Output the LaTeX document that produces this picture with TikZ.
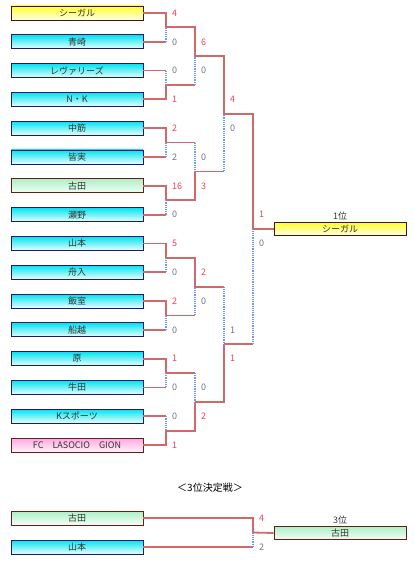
\documentclass[tikz,border=0pt]{standalone}
\usepackage{fontspec}
\setmainfont{Noto Sans CJK JP}
\usetikzlibrary{positioning,calc}

\definecolor{linie}{HTML}{D06A6A}
\definecolor{punkt}{HTML}{6F98EE}
\definecolor{sieger}{HTML}{F0405A}
\definecolor{verlierer}{HTML}{667788}
\definecolor{schrift}{HTML}{333333}
\definecolor{rahmenblau}{HTML}{1A1A70}
\definecolor{rahmenbraun}{HTML}{6B1A1A}
\definecolor{cyanoben}{HTML}{00E4EE}
\definecolor{cyanunten}{HTML}{EAFEFF}
\definecolor{gelboben}{HTML}{FFFF30}
\definecolor{gelbunten}{HTML}{FFFFE6}
\definecolor{gruenoben}{HTML}{AEEFC6}
\definecolor{gruenunten}{HTML}{F2FFF6}
\definecolor{rosaoben}{HTML}{FFA8E0}
\definecolor{rosaunten}{HTML}{FFF2FA}

\tikzset{
	mannschaft/.style={draw, line width=0.8pt, minimum width=132pt, minimum height=14pt,
		inner sep=0pt, text=schrift, font=\fontsize{9}{10}\selectfont},
	blau/.style={mannschaft, draw=rahmenblau, top color=cyanoben, bottom color=cyanunten},
	gelb/.style={mannschaft, draw=rahmenbraun!70!black, top color=gelboben, bottom color=gelbunten},
	gruen/.style={mannschaft, draw=rahmenbraun, top color=gruenoben, bottom color=gruenunten},
	rosa/.style={mannschaft, draw=rahmenbraun, top color=rosaoben, bottom color=rosaunten},
	sieg/.style={draw=linie, line width=1.8pt},
	verl/.style={draw=punkt, line width=1.8pt, dash pattern=on 1.2pt off 1pt},
	pkts/.style={anchor=west, inner sep=0pt, text=sieger, font=\fontsize{9}{10}\selectfont},
	pktv/.style={pkts, text=verlierer},
	platz/.style={inner sep=1pt, text=schrift, font=\fontsize{9}{10}\selectfont}
}

\begin{document}
\begin{tikzpicture}[x=1pt,y=-1pt]
		\useasboundingbox (0,0) rectangle (414,564);
		% Mannschaften
		\foreach \name/\stil [count=\i from 0] in {シーガル/gelb, 青崎/blau, レヴァリーズ/blau,
			N・K/blau, 中筋/blau, 皆実/blau, 古田/gruen, 瀬野/blau, 山本/blau, 舟入/blau,
			飯室/blau, 船越/blau, 原/blau, 牛田/blau, Kスポーツ/blau, FC　LASOCIO　GION/rosa}
			\node[\stil] (t\i) at (77,{13+28.8*\i}) {\name};
		% Sieger
		\node[gelb, minimum height=13pt] (erster) at (340,229) {シーガル};
		\node[platz, above=1pt of erster] (platz1) {1位};
		% Spiel um Platz 3
		\node[font=\fontsize{10}{12}\selectfont] (titel) at (210,488) {＜3位決定戦＞};
		\node[gruen] (d0) at (77,518) {古田};
		\node[blau] (d1) at (77,547) {山本};
		\node[gruen, minimum height=13pt] (dritter) at (340,533) {古田};
		\node[platz, above=1pt of dritter] (platz3) {3位};
		% Knoten
		\foreach \k [evaluate=\k as \a using int(2*\k), evaluate=\k as \b using int(2*\k+1)] in {0,...,7}
			\coordinate (j1\k) at ($(t\a)!.5!(t\b)+(89,0)$);
		\foreach \k [evaluate=\k as \a using int(2*\k), evaluate=\k as \b using int(2*\k+1)] in {0,...,3}
			\coordinate (j2\k) at ($(j1\a)!.5!(j1\b)+(29,0)$);
		\foreach \k [evaluate=\k as \a using int(2*\k), evaluate=\k as \b using int(2*\k+1)] in {0,1}
			\coordinate (j3\k) at ($(j2\a)!.5!(j2\b)+(29,0)$);
		\coordinate (j40) at ($(j30)!.5!(j31)+(29,0)$);
		\coordinate (j5) at ($(d0)!.5!(d1)+(176,0)$);
		% Spiele, oben gewinnt
		\foreach \a/\b/\c/\so/\su in {t0/t1/j10/4/0, t4/t5/j12/2/2, t6/t7/j13/16/0, t8/t9/j14/5/0,
			t10/t11/j15/2/0, t12/t13/j16/1/0, j10/j11/j20/6/0, j14/j15/j22/2/0,
			j20/j21/j30/4/0, j30/j31/j40/1/0, d0/d1/j5/4/2} {
			\draw[sieg] (\a.east) -| (\c);
			\draw[sieg] (\b.east) -- (\b.east -| \c);
			\draw[verl] (\b.east -| \c) -- (\c);
			\node[pkts] (o\c) at ($(\c)+(6,-14.4)$) {\so};
			\node[pktv] (u\c) at ($(\c)+(6,14.4)$) {\su};
		}
		% Spiele, unten gewinnt
		\foreach \a/\b/\c/\so/\su in {t2/t3/j11/0/1, t14/t15/j17/0/1, j12/j13/j21/0/3,
			j16/j17/j23/0/2, j22/j23/j31/1/1} {
			\draw[sieg] (\b.east) -| (\c);
			\draw[sieg] (\a.east) -- (\a.east -| \c);
			\draw[verl] (\a.east -| \c) -- (\c);
			\node[pktv] (o\c) at ($(\c)+(6,-14.4)$) {\so};
			\node[pkts] (u\c) at ($(\c)+(6,14.4)$) {\su};
		}
		% Finale
		\draw[sieg] (j40) -- (erster.west);
		\draw[sieg] (j5) -- (dritter.west);
	\end{tikzpicture}
\end{document}
